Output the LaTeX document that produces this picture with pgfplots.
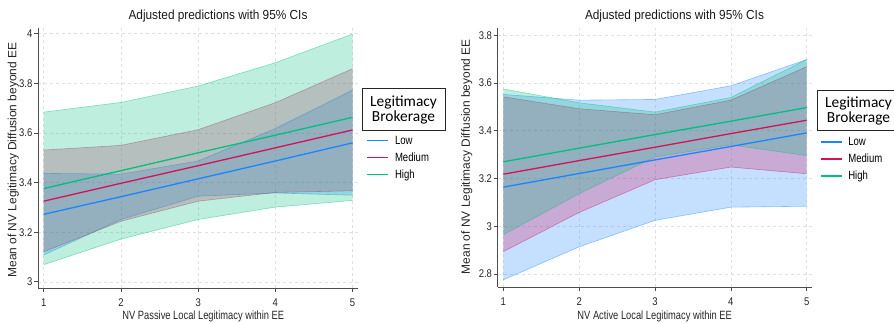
\documentclass[border=0pt]{standalone}
\usepackage{graphicx}
\usepackage{pgfplots}
\pgfplotsset{compat=1.18}
\usepackage{pgfplotstable}
\usepackage{fontspec}
\setmainfont{Liberation Sans}
\newfontfamily\carlito{Carlito}
\newcommand{\sq}[2]{\scalebox{#1}[1]{#2}}

\definecolor{cLow}{RGB}{26,133,255}
\definecolor{cMed}{RGB}{213,17,89}
\definecolor{cHigh}{RGB}{0,191,127}

% Left panel: NV Passive Local Legitimacy within EE
\pgfplotstableread{
x mid lo hi
1 3.272 3.108 3.437
2 3.343 3.251 3.434
3 3.415 3.345 3.487
4 3.487 3.358 3.618
5 3.560 3.349 3.773
}\leftLow
\pgfplotstableread{
x mid lo hi
1 3.325 3.121 3.531
2 3.397 3.244 3.550
3 3.468 3.325 3.613
4 3.540 3.360 3.722
5 3.612 3.367 3.859
}\leftMed
\pgfplotstableread{
x mid lo hi
1 3.376 3.069 3.684
2 3.448 3.172 3.723
3 3.520 3.251 3.789
4 3.591 3.301 3.883
5 3.663 3.328 3.999
}\leftHigh
% Right panel: NV Active Local Legitimacy within EE
\pgfplotstableread{
x mid lo hi
1 3.164 2.776 3.552
2 3.221 2.914 3.528
3 3.278 3.025 3.531
4 3.334 3.080 3.588
5 3.391 3.084 3.698
}\rightLow
\pgfplotstableread{
x mid lo hi
1 3.218 2.894 3.542
2 3.275 3.058 3.492
3 3.331 3.195 3.467
4 3.388 3.248 3.528
5 3.444 3.220 3.668
}\rightMed
\pgfplotstableread{
x mid lo hi
1 3.270 2.965 3.575
2 3.327 3.137 3.517
3 3.384 3.290 3.478
4 3.440 3.341 3.539
5 3.497 3.296 3.698
}\rightHigh

\pgfplotsset{
  every axis title shift=0pt,
  stataaxis/.style={
    scale only axis,
    axis x line*=bottom, axis y line*=left,
    axis line style={black!70, line width=0.8bp},
    tick align=outside, major tick length=4bp,
    tick style={black!70, line width=0.6bp},
    xmajorgrids, ymajorgrids,
    major grid style={dashed, black!12, line width=0.5bp},
    xtick={1,2,3,4,5},
    /pgf/number format/assume math mode=true,
    /pgf/number format/fixed,
    xticklabel={\sq{0.85}{\pgfmathprintnumber{\tick}}},
    yticklabel={\sq{0.85}{\pgfmathprintnumber{\tick}}},
    ticklabel style={font=\fontsize{11.2}{13}\selectfont, text=black!85},
    xticklabel style={yshift=-3bp},
    yticklabel style={inner xsep=1.5bp},
    xlabel style={font=\fontsize{12}{14}\selectfont, text=black!85},
    ylabel style={font=\fontsize{12}{14}\selectfont, text=black!85},
    title style={font=\fontsize{13.2}{15}\selectfont, text=black!90},
    legend style={draw=none, fill=white, fill opacity=1, draw opacity=1, text opacity=1,
      inner sep=0pt, outer sep=0pt,
      anchor=north west, column sep=6bp,
      font=\fontsize{12}{14}\selectfont, text=black,
      nodes={inner sep=0pt, minimum height=17bp, text height=8.5bp, text depth=0.5bp, anchor=west}},
    legend image code/.code={\draw[#1, line width=1.3bp, draw opacity=1] (0bp,0bp) -- (21bp,0bp);},
    legend cell align=left,
  },
  bandedge/.style={draw=#1, draw opacity=0.45, line width=0.6bp, no markers, forget plot},
  bandfill/.style={fill=#1, fill opacity=0.26, draw=none, no markers, forget plot},
  midline/.style={draw=#1, line width=1.3bp, no markers},
}

\begin{document}
\begin{tikzpicture}
\path[use as bounding box] (0,0) rectangle (894bp,324bp);

% ---------------- Right panel ----------------
\begin{axis}[stataaxis,
  at={(497.7bp,37bp)}, anchor=south west, width=314bp, height=259bp,
  xmin=0.926, xmax=5.066, ymin=2.746, ymax=3.83,
  ytick={2.8,3,3.2,3.4,3.6,3.8},
  title={\sq{0.9}{Adjusted predictions with 95\% CIs}},
  title style={at={(0.563,1.0463)}, anchor=center},
  xlabel={\sq{0.78}{NV Active Local Legitimacy within EE}},
  xlabel style={at={(0.5,-0.1147)}, anchor=center},
  ylabel={Mean of NV Legitimacy Diffusion beyond EE},
  ylabel style={at={(-0.0987,0.503)}, anchor=center},
  legend style={at={(1.0264,0.593)}},
]
\addplot[bandfill=cLow] coordinates {(1,3.552)(2,3.528)(3,3.531)(4,3.588)(5,3.698)(5,3.084)(4,3.080)(3,3.025)(2,2.914)(1,2.776)} -- cycle;
\addplot[bandedge=cLow] table[x=x,y=hi]{\rightLow};
\addplot[bandedge=cLow] table[x=x,y=lo]{\rightLow};
\addplot[bandfill=cMed] coordinates {(1,3.542)(2,3.492)(3,3.467)(4,3.528)(5,3.668)(5,3.220)(4,3.248)(3,3.195)(2,3.058)(1,2.894)} -- cycle;
\addplot[bandedge=cMed] table[x=x,y=hi]{\rightMed};
\addplot[bandedge=cMed] table[x=x,y=lo]{\rightMed};
\addplot[bandfill=cHigh] coordinates {(1,3.575)(2,3.517)(3,3.478)(4,3.539)(5,3.698)(5,3.296)(4,3.341)(3,3.290)(2,3.137)(1,2.965)} -- cycle;
\addplot[bandedge=cHigh] table[x=x,y=hi]{\rightHigh};
\addplot[bandedge=cHigh] table[x=x,y=lo]{\rightHigh};
\addplot[midline=cLow] table[x=x,y=mid]{\rightLow};
\addlegendentry{\sq{0.8}{Low}}
\addplot[midline=cMed] table[x=x,y=mid]{\rightMed};
\addlegendentry{\sq{0.8}{Medium}}
\addplot[midline=cHigh] table[x=x,y=mid]{\rightHigh};
\addlegendentry{\sq{0.8}{High}}
\end{axis}

% ---------------- Left panel ----------------
\begin{axis}[stataaxis,
  at={(38bp,36bp)}, anchor=south west, width=320bp, height=260bp,
  xmin=0.926, xmax=5.07, ymin=2.975, ymax=4.023,
  ytick={3,3.2,3.4,3.6,3.8,4},
  title={\sq{0.9}{Adjusted predictions with 95\% CIs}},
  title style={at={(0.5625,1.046)}, anchor=center},
  xlabel={\sq{0.78}{NV Passive Local Legitimacy within EE}},
  xlabel style={at={(0.5166,-0.1077)}, anchor=center},
  ylabel={Mean of NV Legitimacy Diffusion beyond EE},
  ylabel style={at={(-0.0772,0.492)}, anchor=center},
  legend style={at={(1.0272,0.6008)}},
]
% CI bands, drawn Low, Medium, High (upper edge left to right, lower edge right to left)
\addplot[bandfill=cLow] coordinates {(1,3.437)(2,3.434)(3,3.487)(4,3.618)(5,3.773)(5,3.349)(4,3.358)(3,3.345)(2,3.251)(1,3.108)} -- cycle;
\addplot[bandedge=cLow] table[x=x,y=hi]{\leftLow};
\addplot[bandedge=cLow] table[x=x,y=lo]{\leftLow};
\addplot[bandfill=cMed] coordinates {(1,3.531)(2,3.550)(3,3.613)(4,3.722)(5,3.859)(5,3.367)(4,3.360)(3,3.325)(2,3.244)(1,3.121)} -- cycle;
\addplot[bandedge=cMed] table[x=x,y=hi]{\leftMed};
\addplot[bandedge=cMed] table[x=x,y=lo]{\leftMed};
\addplot[bandfill=cHigh] coordinates {(1,3.684)(2,3.723)(3,3.789)(4,3.883)(5,3.999)(5,3.328)(4,3.301)(3,3.251)(2,3.172)(1,3.069)} -- cycle;
\addplot[bandedge=cHigh] table[x=x,y=hi]{\leftHigh};
\addplot[bandedge=cHigh] table[x=x,y=lo]{\leftHigh};
% predictions
\addplot[midline=cLow] table[x=x,y=mid]{\leftLow};
\addlegendentry{\sq{0.8}{Low}}
\addplot[midline=cMed] table[x=x,y=mid]{\leftMed};
\addlegendentry{\sq{0.8}{Medium}}
\addplot[midline=cHigh] table[x=x,y=mid]{\leftHigh};
\addlegendentry{\sq{0.8}{High}}
\end{axis}

% Legend titles (boxed)
\node[draw=black!85, line width=0.8bp, minimum width=83bp, minimum height=42bp,
  inner sep=0pt, align=center, font=\carlito\fontsize{15.5}{14.8}\selectfont]
  at (403.5bp,214.1bp) {Legitimacy\\Brokerage};
\node[draw=black!85, line width=0.8bp, minimum width=83bp, minimum height=40bp,
  inner sep=0pt, align=center, font=\carlito\fontsize{15.5}{14.8}\selectfont]
  at (858.5bp,213.3bp) {Legitimacy\\Brokerage};
\end{tikzpicture}
\end{document}
